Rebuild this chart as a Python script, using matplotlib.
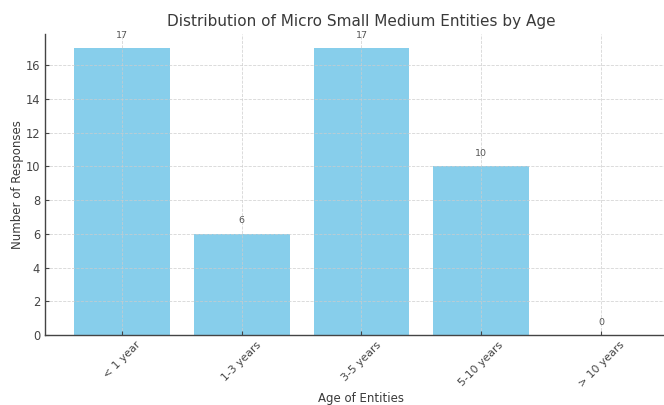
import matplotlib
matplotlib.use("Agg")
import matplotlib.pyplot as plt

# Survey results: how long each entity has been operating
age_groups = ["< 1 year", "1-3 years", "3-5 years", "5-10 years", "> 10 years"]
responses = [17, 6, 17, 10, 0]

plt.rcParams["font.family"] = "DejaVu Sans"
text_color = "#3a3a3a"

fig = plt.figure(figsize=(6.64, 4.05), dpi=100)
ax = fig.add_axes([45 / 664, 70 / 405, 633 / 664, 301 / 405])

bars = ax.bar(age_groups, responses, width=0.8, color="skyblue")

for rect, value in zip(bars, responses):
    ax.text(rect.get_x() + rect.get_width() / 2, value + 0.5, str(value),
            ha="center", va="bottom", fontsize=6.8, color="#555555")

ax.set_title("Distribution of Micro Small Medium Entities by Age",
             fontsize=11, color=text_color, pad=6)
ax.set_xlabel("Age of Entities", fontsize=8.5, color=text_color, labelpad=2)
ax.set_ylabel("Number of Responses", fontsize=8.5, color=text_color, labelpad=1)

ax.grid(True, linestyle="--", linewidth=0.6, color="#cccccc", alpha=0.8)
for side in ("top", "right"):
    ax.spines[side].set_visible(False)
for side in ("left", "bottom"):
    ax.spines[side].set_color("#444444")
    ax.spines[side].set_linewidth(1.0)

ax.tick_params(axis="x", direction="in", labelsize=7.8,
               colors="#444444", length=3)
ax.tick_params(axis="y", direction="in", labelsize=8.3,
               colors="#444444", length=3)
plt.setp(ax.get_xticklabels(), rotation=45, ha="center")

fig.savefig("out.png", dpi=100)
